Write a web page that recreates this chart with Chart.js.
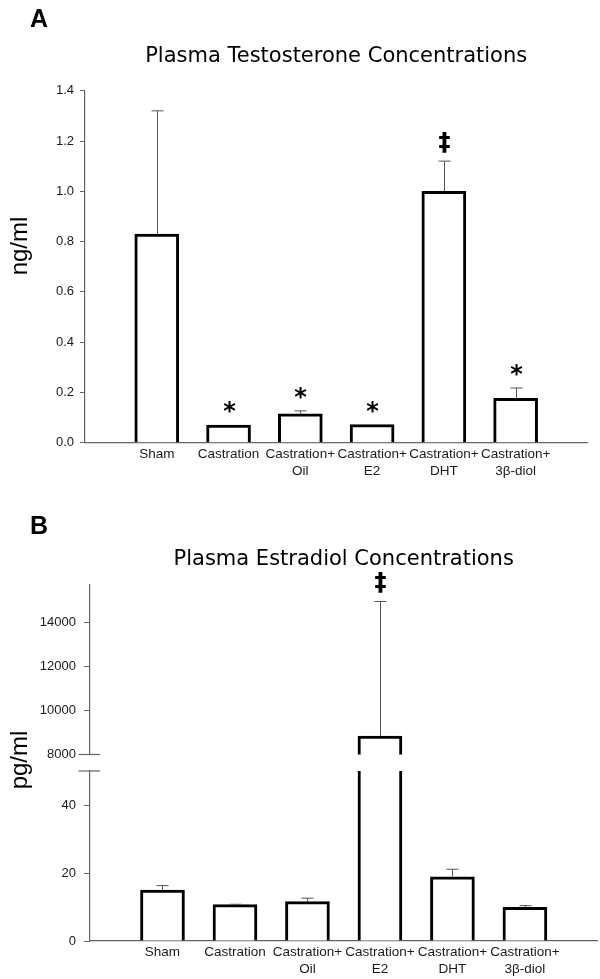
<!DOCTYPE html>
<html>
<head>
<meta charset="utf-8">
<script src="https://cdn.jsdelivr.net/npm/chart.js@4"></script>
<style>
  body { margin: 0; background: #fff; }
  #wrap { position: relative; width: 600px; height: 979px; font-family: "Liberation Sans", sans-serif; color: #000; }
  canvas { position: absolute; left: 0; }
  .panel { position: absolute; left: 30px; font-weight: bold; font-size: 25px; line-height: 28px; }
  .ytitle { position: absolute; left: -31px; width: 100px; text-align: center; font-size: 24px; line-height: 26px; transform: rotate(-90deg); }
</style>
</head>
<body>
<div id="wrap">
  <canvas id="chartA" width="600" height="490" style="top:0"></canvas>
  <canvas id="chartB" width="600" height="489" style="top:490px"></canvas>
  <div class="panel" style="top:4px">A</div>
  <div class="panel" style="top:511px">B</div>
  <div class="ytitle" style="top:233px">ng/ml</div>
  <div class="ytitle" style="top:747px">pg/ml</div>
</div>
<script>
const groups = ['Sham', 'Castration', ['Castration+', 'Oil'], ['Castration+', 'E2'], ['Castration+', 'DHT'], ['Castration+', '3β-diol']];

// A: plasma testosterone (ng/ml), mean and upper error
const testoMean = [0.83, 0.07, 0.115, 0.072, 1.0, 0.177];
const testoErr = [0.49, 0, 0.012, 0, 0.12, 0.041];
const testoMarks = ['', '*', '*', '*', '‡', '*'];
const testoTicks = [0, 0.2, 0.4, 0.6, 0.8, 1.0, 1.2, 1.4];

// B: plasma estradiol (pg/ml), broken axis
const estMean = [15.0, 10.7, 11.6, 8840, 18.9, 9.9];
const estErr = [1.3, 0.1, 1.0, 6110, 2.2, 0.5];
const estMarks = ['', '', '', '‡', '', ''];
const estLowTicks = [0, 20, 40];
const estHighTicks = [8000, 10000, 12000, 14000];

const testoMax = 1.4;
const estLowMax = 50;
const estHighMin = 8000;
const estHighMax = 15700;

Chart.defaults.font.family = 'DejaVu Sans';
Chart.defaults.color = '#1a1a1a';

const axisGrey = '#666';
const barStyle = { backgroundColor: '#fff', borderColor: '#000', borderWidth: 3, barThickness: 44, grouped: false };

function errorBars(means, errs, marks, scaleFor) {
    return {
        id: 'errorBars',
        beforeDatasetDraw(chart, args) {
            // keep each dataset inside its own y section
            const s = chart.scales[chart.data.datasets[args.index].yAxisID];
            const a = chart.chartArea;
            const ctx = chart.ctx;
            ctx.save();
            ctx.beginPath();
            ctx.rect(a.left - 5, s.top - 1.5, a.right - a.left + 10, s.bottom - s.top + 3);
            ctx.clip();
        },
        afterDatasetDraw(chart) {
            chart.ctx.restore();
        },
        afterDatasetsDraw(chart) {
            const ctx = chart.ctx;
            const x = chart.scales.x;
            ctx.save();
            means.forEach((m, i) => {
                const s = chart.scales[scaleFor(m)];
                const cx = Math.round(x.getPixelForValue(i + 1)) + 0.5;
                const y0 = s.getPixelForValue(m);
                const y1 = s.getPixelForValue(m + errs[i]);
                if (errs[i] > 0) {
                    ctx.strokeStyle = '#555';
                    ctx.lineWidth = 1;
                    ctx.beginPath();
                    ctx.moveTo(cx, y0);
                    ctx.lineTo(cx, y1);
                    ctx.moveTo(cx - 6, y1);
                    ctx.lineTo(cx + 6, y1);
                    ctx.stroke();
                }
                if (marks[i]) {
                    ctx.font = 'bold 24px "DejaVu Sans"';
                    ctx.fillStyle = '#000';
                    ctx.textAlign = 'center';
                    ctx.textBaseline = 'alphabetic';
                    const mt = ctx.measureText(marks[i]);
                    const cy = y1 - (marks[i] === '*' ? 18 : 19);
                    ctx.fillText(marks[i], cx, cy + (mt.actualBoundingBoxAscent - mt.actualBoundingBoxDescent) / 2);
                }
            });
            ctx.restore();
        }
    };
}

const axisBreak = {
    id: 'axisBreak',
    afterDraw(chart) {
        const ctx = chart.ctx;
        const ax = chart.chartArea.left;
        ctx.save();
        ctx.strokeStyle = axisGrey;
        ctx.lineWidth = 1.2;
        [chart.scales.yHigh.bottom, chart.scales.yLow.top].forEach(y => {
            ctx.beginPath();
            ctx.moveTo(ax - 11.5, y);
            ctx.lineTo(ax + 10, y);
            ctx.stroke();
        });
        ctx.restore();
    }
};

function xAxis(height) {
    return {
        offset: false,
        grid: { display: false, drawTicks: false },
        border: { color: axisGrey, width: 1.2 },
        ticks: {
            autoSkip: false, maxRotation: 0, minRotation: 0, padding: 2.6,
            font: { family: 'Liberation Sans', size: 13.5, lineHeight: 1.26 }
        },
        afterFit: s => { s.height = height; }
    };
}

new Chart(document.getElementById('chartA'), {
    type: 'bar',
    data: {
        labels: ['', ...groups, ''],
        datasets: [Object.assign({ data: [null, ...testoMean, null], yAxisID: 'y' }, barStyle)]
    },
    options: {
        responsive: false,
        animation: false,
        layout: { padding: { left: 0, right: 12.6, top: 0, bottom: 0 } },
        plugins: {
            legend: { display: false },
            tooltip: { enabled: false },
            title: {
                display: true,
                text: 'Plasma Testosterone Concentrations',
                fullSize: false,
                color: '#000',
                font: { size: 21, weight: 'normal' },
                padding: { top: 44.4, bottom: 21.1 }
            }
        },
        scales: {
            x: xAxis(47.2),
            y: {
                min: 0,
                max: testoMax,
                grid: { drawOnChartArea: false, tickLength: 5, color: axisGrey },
                border: { color: axisGrey, width: 1.2 },
                ticks: { padding: 6, font: { family: 'Liberation Sans', size: 13 }, callback: v => v.toFixed(1) },
                afterBuildTicks: s => { s.ticks = testoTicks.map(v => ({ value: v })); },
                afterFit: s => { s.width = 85; }
            }
        }
    },
    plugins: [errorBars(testoMean, testoErr, testoMarks, () => 'y')]
});

function estAxis(min, max, ticks, weight) {
    return {
        type: 'linear',
        position: 'left',
        stack: 'est',
        stackWeight: weight,
        min: min,
        max: max,
        grid: { drawOnChartArea: false, tickLength: 6, color: axisGrey },
        border: { color: axisGrey, width: 1.2 },
        ticks: { padding: 8, font: { family: 'Liberation Sans', size: 13 }, callback: v => String(v) },
        afterBuildTicks: s => { s.ticks = ticks.map(v => ({ value: v })); },
        afterFit: s => { s.width = 90; }
    };
}

new Chart(document.getElementById('chartB'), {
    type: 'bar',
    data: {
        labels: ['', ...groups, ''],
        datasets: [
            Object.assign({ data: [null, ...estMean, null], yAxisID: 'yLow' }, barStyle),
            Object.assign({ data: [null, ...estMean.map(v => v > estHighMin ? v : null), null], yAxisID: 'yHigh' }, barStyle)
        ]
    },
    options: {
        responsive: false,
        animation: false,
        layout: { padding: { left: 0, right: 2.2, top: 0, bottom: 0 } },
        plugins: {
            legend: { display: false },
            tooltip: { enabled: false },
            title: {
                display: true,
                text: 'Plasma Estradiol Concentrations',
                fullSize: false,
                color: '#000',
                font: { size: 21, weight: 'normal' },
                padding: { top: 57.4, bottom: 12.4 }
            }
        },
        scales: {
            x: xAxis(38),
            yLow: estAxis(0, estLowMax, estLowTicks, 170),
            yGap: {
                type: 'linear',
                position: 'left',
                stack: 'est',
                stackWeight: 16.5,
                ticks: { display: false },
                grid: { display: false, drawTicks: false },
                border: { display: false },
                afterFit: s => { s.width = 90; }
            },
            yHigh: estAxis(estHighMin, estHighMax, estHighTicks, 169.5)
        }
    },
    plugins: [errorBars(estMean, estErr, estMarks, v => v > estLowMax ? 'yHigh' : 'yLow'), axisBreak]
});
</script>
</body>
</html>
